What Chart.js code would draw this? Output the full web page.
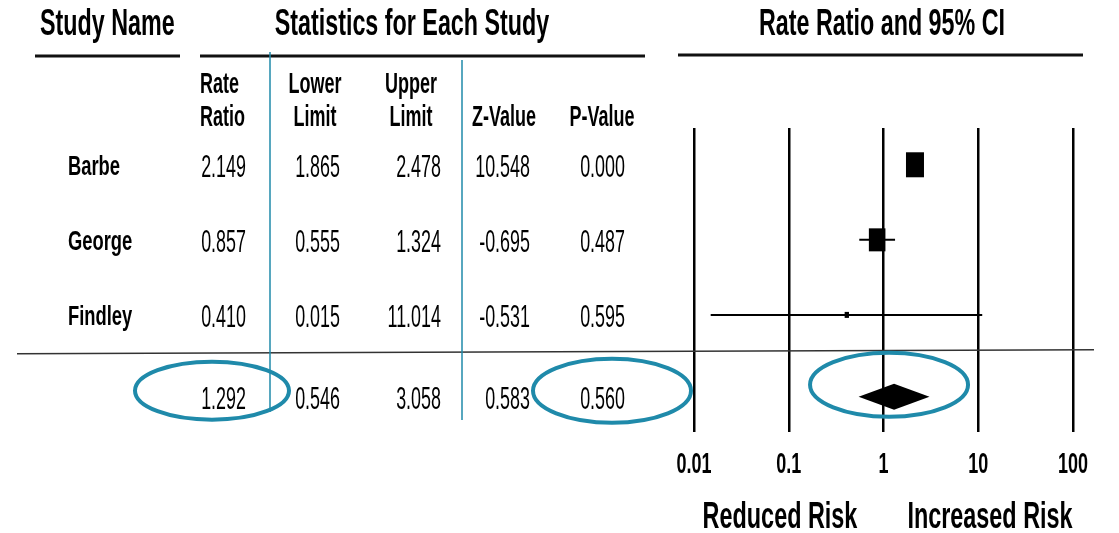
<!DOCTYPE html>
<html>
<head>
<meta charset="utf-8">
<script src="https://cdn.jsdelivr.net/npm/chart.js@4.4.1/dist/chart.umd.min.js"></script>
<style>
  html, body { margin: 0; padding: 0; background: #fff; overflow: hidden; }
  canvas { display: block; }
</style>
</head>
<body>
<canvas id="forest" width="1119" height="533"></canvas>
<script>
// ── data ────────────────────────────────────────────────────────────────────
const studyNames  = ["Barbe", "George", "Findley"];
const rateRatio   = [2.149, 0.857, 0.410];
const lowerLimit  = [1.865, 0.555, 0.015];
const upperLimit  = [2.478, 1.324, 11.014];
const zValue      = [10.548, -0.695, -0.531];
const pValue      = [0.000, 0.487, 0.595];
const studyWeight = [1.00, 0.92, 0.24];           // relative box size
const summaryStats = [1.292, 0.546, 3.058, 0.583, 0.560]; // rate, lower, upper, z, p
const axisTicks   = [0.01, 0.1, 1, 10, 100];
const columnHeads = [["Rate", "Ratio"], ["Lower", "Limit"], ["Upper", "Limit"], ["", "Z-Value"], ["", "P-Value"]];
const sideLabels  = ["Reduced Risk", "Increased Risk"];

// ── layout / style ─────────────────────────────────────────────────────────
const FONT = '"Liberation Sans", Arial, sans-serif';
const TEAL = "#1f8aaa";
const SUMMARY_ROW = 3.09;
const COL_RIGHT = [246, 340, 441, 530, 625];
const HEAD_X = [[200, "left"], [315, "center"], [411, "center"], [504, "center"], [602, "center"]];

function fmt(v) { return v.toFixed(3); }

// tall, squeezed text (the source uses a very narrow face); y is the baseline
function txt(c, s, x, y, size, bold, align, sq) {
  c.save();
  c.font = (bold ? "bold " : "") + size + "px " + FONT;
  const w = c.measureText(s).width * sq;
  const x0 = align === "center" ? x - w / 2 : align === "right" ? x - w : x;
  c.translate(x0, y);
  c.scale(sq, 1);
  c.textAlign = "left";
  c.textBaseline = "alphabetic";
  c.fillStyle = "#000";
  c.fillText(s, 0, 0);
  c.restore();
}

function line(c, x1, y1, x2, y2, w, col) {
  c.save();
  c.strokeStyle = col; c.lineWidth = w;
  c.beginPath(); c.moveTo(x1, y1); c.lineTo(x2, y2); c.stroke();
  c.restore();
}

function ellipse(c, cx, cy, rx, ry) {
  c.save();
  c.strokeStyle = TEAL; c.lineWidth = 4;
  c.beginPath(); c.ellipse(cx, cy, rx, ry, 0, 0, Math.PI * 2); c.stroke();
  c.restore();
}

// boxes + summary diamond, drawn through the scales
const markerPlugin = {
  id: "markers",
  afterDatasetsDraw(chart) {
    const { ctx: c, scales: { x, y } } = chart;
    c.save();
    c.fillStyle = "#000";
    studyNames.forEach((_, i) => {
      const h = 25 * studyWeight[i], w = h * 0.72;
      const px = x.getPixelForValue(rateRatio[i]);
      const py = y.getPixelForValue(i);
      c.fillRect(px - w / 2, py - h / 2, w, h);
    });
    const cy = y.getPixelForValue(SUMMARY_ROW);
    const xm = x.getPixelForValue(summaryStats[0]);
    c.beginPath();
    c.moveTo(x.getPixelForValue(summaryStats[1]), cy);
    c.lineTo(xm, cy - 13);
    c.lineTo(x.getPixelForValue(summaryStats[2]), cy);
    c.lineTo(xm, cy + 13);
    c.closePath();
    c.fill();
    c.restore();
  }
};

// table text, rules, axis labels and the teal annotations
const tablePlugin = {
  id: "table",
  afterDraw(chart) {
    const { ctx: c, scales: { x, y } } = chart;

    // section titles
    txt(c, "Study Name", 40, 35, 37, true, "left", 0.63);
    txt(c, "Statistics for Each Study", 412, 35, 37, true, "center", 0.63);
    txt(c, "Rate Ratio and 95% CI", 882, 35, 37, true, "center", 0.63);
    line(c, 35, 56, 180, 56, 3, "#111");
    line(c, 200, 56, 645, 56, 3, "#111");
    line(c, 678, 55, 1083, 55, 3, "#111");

    // column heads
    columnHeads.forEach((h, k) => {
      if (h[0]) txt(c, h[0], HEAD_X[k][0], 93, 29, true, HEAD_X[k][1], 0.62);
      txt(c, h[1], HEAD_X[k][0], 126, 29, true, HEAD_X[k][1], 0.62);
    });

    // study rows
    const cols = [rateRatio, lowerLimit, upperLimit, zValue, pValue];
    studyNames.forEach((name, i) => {
      const py = y.getPixelForValue(i);
      txt(c, name, 68, py + 10, 27, true, "left", 0.68);
      cols.forEach((arr, k) => txt(c, fmt(arr[i]), COL_RIGHT[k], py + 12, 32, false, "right", 0.56));
    });

    // summary row
    const sy = y.getPixelForValue(SUMMARY_ROW);
    summaryStats.forEach((v, k) => txt(c, fmt(v), COL_RIGHT[k], sy + 12, 32, false, "right", 0.56));

    // separator above the summary
    const ry = y.getPixelForValue(2.49);
    line(c, 17, ry + 2, 1094, ry - 2, 1.5, "#333");

    // teal column dividers
    line(c, 270, 52, 270, 412, 1.5, TEAL);
    line(c, 462, 60, 462, 420, 1.5, TEAL);

    // tick labels under the decade lines
    axisTicks.forEach(v => txt(c, String(v), x.getPixelForValue(v), 473, 30, true, "center", 0.6));

    // risk labels under the axis
    txt(c, sideLabels[0], 780, 528, 36, true, "center", 0.65);
    txt(c, sideLabels[1], 990, 528, 36, true, "center", 0.65);

    // highlight ellipses
    ellipse(c, 212, sy - 6, 77, 29);
    ellipse(c, 612, sy - 6, 79, 32);
    ellipse(c, x.getPixelForValue(summaryStats[0]) - 5, sy - 12, 79, 32);
  }
};

const ciSets = studyNames.map((name, i) => ({
  label: name,
  data: [{ x: lowerLimit[i], y: i }, { x: upperLimit[i], y: i }],
  showLine: true,
  borderColor: "#000",
  borderWidth: 2,
  pointRadius: 0
}));

new Chart(document.getElementById("forest"), {
  type: "scatter",
  data: { datasets: ciSets },
  options: {
    responsive: false,
    animation: false,
    layout: { padding: { left: 694, right: 46, top: 128, bottom: 0 } },
    plugins: { legend: { display: false }, tooltip: { enabled: false } },
    scales: {
      x: {
        type: "logarithmic",
        min: 0.01, max: 100,
        afterBuildTicks(axis) { axis.ticks = axisTicks.map(v => ({ value: v })); },
        afterFit(axis) { axis.height = 101; },
        grid: { color: "#000", lineWidth: 2.5, drawTicks: false },
        border: { display: false },
        ticks: { display: false }
      },
      y: {
        type: "linear",
        min: -0.49, max: 3.56,
        reverse: true,
        display: false
      }
    }
  },
  plugins: [markerPlugin, tablePlugin]
});
</script>
</body>
</html>
